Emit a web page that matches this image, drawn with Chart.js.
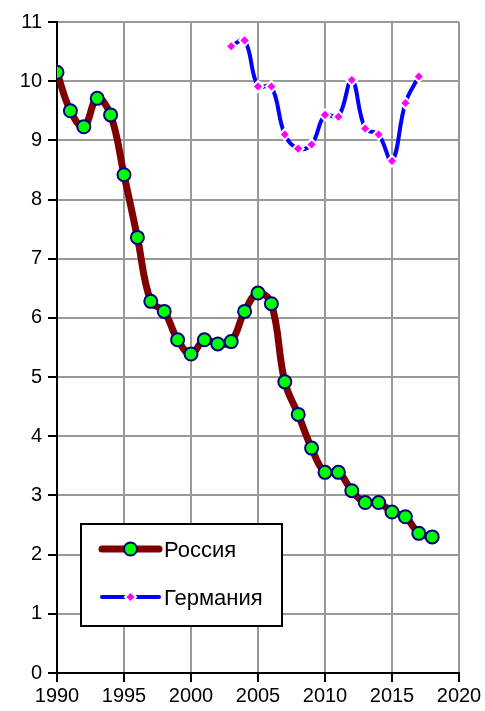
<!DOCTYPE html>
<html>
<head>
<meta charset="utf-8">
<script src="https://cdn.jsdelivr.net/npm/chart.js@4"></script>
<style>
  body { margin: 0; background: #ffffff; }
  #wrap { width: 485px; height: 711px; position: relative; }
</style>
</head>
<body>
<div id="wrap"><canvas id="chart"></canvas></div>
<script>
// years and values
var russiaYears = [1990, 1991, 1992, 1993, 1994, 1995, 1996, 1997, 1998, 1999,
                   2000, 2001, 2002, 2003, 2004, 2005, 2006, 2007, 2008, 2009,
                   2010, 2011, 2012, 2013, 2014, 2015, 2016, 2017, 2018];
var russiaValues = [10.15, 9.50, 9.23, 9.71, 9.43, 8.42, 7.36, 6.28, 6.11, 5.63,
                    5.39, 5.63, 5.56, 5.60, 6.11, 6.42, 6.24, 4.92, 4.37, 3.80,
                    3.39, 3.39, 3.08, 2.88, 2.88, 2.72, 2.64, 2.36, 2.30];
var germanyYears = [2003, 2004, 2005, 2006, 2007, 2008, 2009, 2010, 2011, 2012,
                    2013, 2014, 2015, 2016, 2017];
var germanyValues = [10.59, 10.69, 9.91, 9.91, 9.10, 8.86, 8.93, 9.43, 9.40, 10.02,
                     9.20, 9.10, 8.65, 9.63, 10.08];
var seriesNames = ['Россия', 'Германия'];

function toPoints(xs, ys) {
    return xs.map(function (x, i) { return { x: x, y: ys[i] }; });
}

var fontFamily = '"Liberation Sans", Arial, sans-serif';

// legend box drawn inside the plot area, lower left
var boxLegend = {
    id: 'boxLegend',
    afterDraw: function (chart) {
        var ctx = chart.ctx;
        var area = chart.chartArea;
        var left = area.left + 24, top = area.top + 502;
        var w = 201, h = 102;
        ctx.save();
        ctx.fillStyle = '#ffffff';
        ctx.fillRect(left, top, w, h);
        ctx.strokeStyle = '#000000';
        ctx.lineWidth = 2;
        ctx.strokeRect(left, top, w, h);

        chart.data.datasets.forEach(function (ds, i) {
            var y = top + 25 + i * 48;
            var x1 = left + 21, x2 = left + 78;
            ctx.strokeStyle = ds.borderColor;
            ctx.lineWidth = ds.borderWidth;
            ctx.lineCap = 'round';
            ctx.beginPath();
            ctx.moveTo(x1, y);
            ctx.lineTo(x2, y);
            ctx.stroke();
            ctx.fillStyle = ds.pointBackgroundColor;
            ctx.strokeStyle = ds.pointBorderColor;
            ctx.lineWidth = ds.pointBorderWidth;
            Chart.helpers.drawPoint(ctx, {
                pointStyle: ds.pointStyle,
                radius: ds.pointRadius,
                rotation: 0,
                borderWidth: ds.pointBorderWidth
            }, (x1 + x2) / 2, y);
            ctx.fillStyle = '#000000';
            ctx.font = '22px ' + fontFamily;
            ctx.textBaseline = 'middle';
            ctx.textAlign = 'left';
            ctx.fillText(ds.label, x2 + 5, y + 2);
        });
        ctx.restore();
    }
};

var data = {
    datasets: [{
        label: seriesNames[0],
        data: toPoints(russiaYears, russiaValues),
        borderColor: '#800000',
        borderWidth: 7,
        tension: 0.4,
        pointStyle: 'circle',
        pointRadius: 6.5,
        pointBackgroundColor: '#00ff00',
        pointBorderColor: '#000080',
        pointBorderWidth: 2
    }, {
        label: seriesNames[1],
        data: toPoints(germanyYears, germanyValues),
        borderColor: '#0000ff',
        borderWidth: 4,
        tension: 0.4,
        pointStyle: 'rectRot',
        pointRadius: 5.5,
        pointBackgroundColor: '#ff00ff',
        pointBorderColor: '#ffffff',
        pointBorderWidth: 2
    }]
};

var options = {
    responsive: true,
    maintainAspectRatio: false,
    animation: false,
    layout: { padding: { top: 22, right: 26, left: 0, bottom: 0 } },
    plugins: {
        legend: { display: false },
        tooltip: { enabled: false }
    },
    scales: {
        x: {
            type: 'linear',
            min: 1990,
            max: 2020,
            ticks: {
                stepSize: 5,
                color: '#000000',
                font: { size: 20, family: fontFamily },
                padding: 2,
                maxRotation: 0,
                callback: function (v) { return String(v); }
            },
            grid: {
                color: '#999999',
                lineWidth: 2,
                tickColor: '#000000',
                tickLength: 9
            },
            border: { color: '#000000', width: 2 },
            afterFit: function (scale) { scale.height = 38; }
        },
        y: {
            min: 0,
            max: 11,
            ticks: {
                stepSize: 1,
                color: '#000000',
                font: { size: 20, family: fontFamily },
                padding: 6
            },
            grid: {
                color: '#999999',
                lineWidth: 2,
                tickColor: '#000000',
                tickLength: 9
            },
            border: { color: '#000000', width: 2 },
            afterFit: function (scale) { scale.width = 57; }
        }
    }
};

var canvas = document.getElementById('chart').getContext('2d');
var lineChart = new Chart(canvas, {
    type: 'line',
    data: data,
    options: options,
    plugins: [boxLegend]
});
</script>
</body>
</html>
